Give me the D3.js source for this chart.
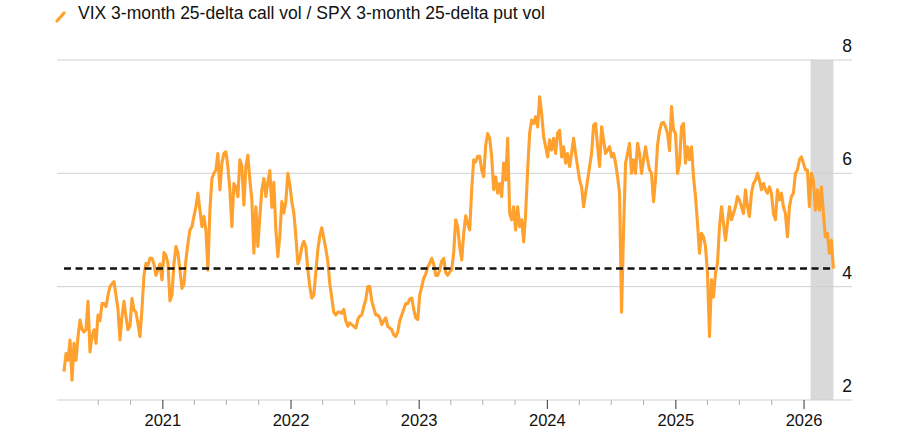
<!DOCTYPE html>
<html>
<head>
<meta charset="utf-8">
<script src="https://cdn.jsdelivr.net/npm/d3@7"></script>
<style>
  body { margin: 0; background: #fff; }
  svg { display: block; font-family: "Liberation Sans", Arial, sans-serif; }
</style>
</head>
<body>
<svg id="chart" width="900" height="448"></svg>
<script>
// ---------------- data ----------------
const legendLabel = "VIX 3-month 25-delta call vol / SPX 3-month 25-delta put vol";
const yTickValues = [2, 4, 6, 8];
const yDomain = [2, 8];
const xDomain = ["2020-03-07", "2026-05-19"];
const seriesStart = "2020-03-27";
const seriesEnd = "2026-03-27";
const shadeStart = "2026-01-21";
const shadeEnd = "2026-03-27";
const referenceLevel = 4.32;
const minorTickRange = ["2020-07-01", "2026-01-02"];

// observations, evenly spaced in time from seriesStart to seriesEnd
const ratio2020_21 = [
  2.5, 2.82, 2.7, 3.06, 2.35, 3.0, 2.7, 3.12, 3.41, 3.25,
  3.2, 3.24, 3.74, 2.85, 3.12, 3.24, 3.0, 3.5, 3.4, 3.7,
  3.7, 3.65, 3.85, 4.0, 4.05, 4.09, 3.85, 3.6, 3.06, 3.47,
  3.74, 3.47, 3.24, 3.3, 3.79, 3.59, 3.55, 3.35, 3.12, 3.6,
  4.2, 4.41, 4.38, 4.5, 4.5, 4.4, 4.2, 4.3, 4.4, 4.12,
  4.6, 4.55, 4.41, 3.75, 3.85, 4.4, 4.71, 4.59, 4.3, 3.97,
  4.05, 4.47, 4.76, 5.0, 5.06, 5.24, 5.41, 5.65, 5.35, 5.06,
  5.24, 5.0, 4.29, 5.35, 5.9, 6.0, 6.06, 6.35, 5.71, 6.18,
  6.35, 6.38, 6.12, 5.71, 5.06, 5.82, 5.76, 5.59, 6.24, 6.12,
  5.44, 6.12, 6.32, 5.88, 5.53, 4.59, 5.41, 4.71, 5.24, 5.71,
  5.91, 5.59
];
const ratio2022 = [
  5.85, 6.05, 5.4, 5.84, 5.0, 4.53, 4.9, 5.5, 5.3, 5.5,
  6.0, 5.8, 5.5, 5.3, 4.9, 4.4, 4.5, 4.7, 4.8, 4.7,
  4.3, 4.0, 3.8, 3.85, 4.25, 4.65, 4.9, 5.04, 4.85, 4.67,
  4.45, 4.05, 3.8, 3.55, 3.5, 3.55, 3.55, 3.53, 3.6, 3.4,
  3.3, 3.36, 3.33, 3.3, 3.27, 3.42, 3.48, 3.5, 3.65, 3.77,
  4.0, 4.0, 3.75, 3.62, 3.5, 3.5, 3.45, 3.33, 3.4, 3.45,
  3.3, 3.27, 3.24, 3.15, 3.12, 3.2, 3.4, 3.5, 3.6, 3.7,
  3.7, 3.78, 3.8, 3.6, 3.45, 3.42, 3.85
];
const ratio2023_24 = [
  4.0, 4.15, 4.22, 4.35, 4.41, 4.5, 4.4, 4.2, 4.2, 4.29,
  4.45, 4.5, 4.25, 4.2, 4.26, 4.3, 4.6, 5.18, 5.06, 4.71,
  4.47, 4.94, 5.25, 5.1, 5.0, 5.71, 6.24, 6.2, 6.3, 6.3,
  6.06, 5.94, 6.5, 6.7, 6.62, 6.3, 5.71, 5.94, 5.65, 5.82,
  5.59, 6.18, 5.88, 6.62, 5.29, 5.18, 5.41, 5.0, 5.41, 5.06,
  5.18, 4.79, 5.29, 6.06, 6.71, 6.94, 6.88, 7.0, 6.82, 7.35,
  7.06, 6.65, 6.47, 6.29, 6.59, 6.41, 6.62, 6.35, 6.71, 6.76,
  6.29, 6.47, 6.18, 6.35, 6.12, 6.35, 6.62, 6.35, 6.12, 5.88,
  5.76, 5.41, 5.65, 5.88, 6.12, 6.35, 6.85, 6.88, 6.47, 6.12,
  6.82, 6.59, 6.35, 6.41, 6.47, 6.29, 6.35, 6.18, 5.94, 5.65,
  3.55, 5.0, 6.18, 6.35, 6.53, 6.0, 6.24, 6.0, 6.53, 6.35,
  6.0, 6.24, 6.47, 6.24, 6.06, 6.0, 5.5, 5.9, 6.5, 6.75,
  6.88, 6.9, 6.82, 6.7
];
const ratio2025_26 = [
  6.4, 7.18, 6.76, 6.71, 6.0, 6.18, 6.82, 6.88, 6.18, 6.47,
  6.24, 6.47, 5.94, 5.59, 5.12, 4.59, 4.94, 4.88, 4.71, 4.24,
  3.12, 4.12, 3.82, 4.24, 4.41, 5.06, 5.41, 5.12, 4.82, 5.12,
  5.41, 5.18, 5.29, 5.41, 5.59, 5.53, 5.41, 5.29, 5.71, 5.41,
  5.24, 5.65, 5.82, 5.88, 6.0, 5.88, 5.71, 5.82, 5.71, 5.65,
  5.76, 5.65, 5.29, 5.18, 5.71, 5.53, 5.65, 5.41, 5.29, 4.88,
  5.41, 5.59, 5.65, 6.0, 6.06, 6.24, 6.29, 6.18, 6.06, 6.06,
  5.41, 6.0, 5.88, 5.35, 5.71, 5.35, 5.76, 5.29, 4.88, 4.94,
  4.59, 4.82, 4.32
];

// ---------------- build ----------------
const parse = d3.utcParse("%Y-%m-%d");
const values = [].concat(ratio2020_21, ratio2022, ratio2023_24, ratio2025_26);
const t0 = parse(seriesStart).getTime(), t1 = parse(seriesEnd).getTime();
const data = values.map((v, i) => ({
  date: new Date(t0 + (t1 - t0) * i / (values.length - 1)),
  value: v
}));

const ORANGE = "#ffa12e";
const M = { left: 57, right: 852, top: 60, bottom: 400 };

const svg = d3.select("#chart");
const x = d3.scaleUtc().domain(xDomain.map(parse)).range([M.left, M.right]);
const y = d3.scaleLinear().domain(yDomain).range([M.bottom, M.top]);

// shaded period
svg.append("rect")
  .attr("x", x(parse(shadeStart)))
  .attr("y", y(yDomain[1]))
  .attr("width", x(parse(shadeEnd)) - x(parse(shadeStart)))
  .attr("height", y(yDomain[0]) - y(yDomain[1]))
  .attr("fill", "#d9d9d9");

// gridlines + right labels
const grid = svg.append("g");
grid.selectAll("line").data(yTickValues).join("line")
  .attr("x1", M.left).attr("x2", M.right)
  .attr("y1", d => y(d)).attr("y2", d => y(d))
  .attr("stroke", "#cfcfcf").attr("stroke-width", 1);
grid.selectAll("text").data(yTickValues).join("text")
  .attr("x", M.right).attr("y", d => y(d) - 8)
  .attr("text-anchor", "end")
  .attr("font-size", 17.5)
  .attr("fill", "#111")
  .text(d => d);

// x axis: quarterly minor ticks, yearly major ticks
const quarters = d3.utcMonth.every(3).range(parse(minorTickRange[0]), parse(minorTickRange[1]));
const minorAxis = d3.axisBottom(x).tickValues(quarters.filter(d => d.getUTCMonth() !== 0))
  .tickSize(5).tickFormat("");
const gMinor = svg.append("g").attr("transform", `translate(0,${M.bottom})`).call(minorAxis);
gMinor.select(".domain").remove();
gMinor.selectAll(".tick line").attr("stroke", "#b0b0b0");

const years = quarters.filter(d => d.getUTCMonth() === 0);
const majorAxis = d3.axisBottom(x).tickValues(years).tickSize(9).tickPadding(5)
  .tickFormat(d3.utcFormat("%Y"));
const gMajor = svg.append("g").attr("transform", `translate(0,${M.bottom})`).call(majorAxis);
gMajor.select(".domain").remove();
gMajor.selectAll(".tick line").attr("stroke", "#333");
gMajor.selectAll(".tick text")
  .attr("font-size", 16.5)
  .attr("font-family", "'Liberation Sans', Arial, sans-serif")
  .attr("fill", "#111");

// series line
svg.append("path")
  .datum(data)
  .attr("fill", "none")
  .attr("stroke", ORANGE)
  .attr("stroke-width", 3.1)
  .attr("stroke-linejoin", "round")
  .attr("d", d3.line().x(d => x(d.date)).y(d => y(d.value)));

// reference dashed line
svg.append("line")
  .attr("x1", x(parse(seriesStart))).attr("x2", x(parse(seriesEnd)))
  .attr("y1", y(referenceLevel)).attr("y2", y(referenceLevel))
  .attr("stroke", "#111").attr("stroke-width", 2.5)
  .attr("stroke-dasharray", "7,4.5");

// legend
const lg = svg.append("g");
lg.append("line")
  .attr("x1", 57).attr("y1", 21).attr("x2", 64).attr("y2", 13)
  .attr("stroke", ORANGE).attr("stroke-width", 3.2).attr("stroke-linecap", "round");
lg.append("text")
  .attr("x", 78).attr("y", 18.5)
  .attr("font-size", 17.5)
  .attr("fill", "#111")
  .text(legendLabel);
</script>
</body>
</html>
